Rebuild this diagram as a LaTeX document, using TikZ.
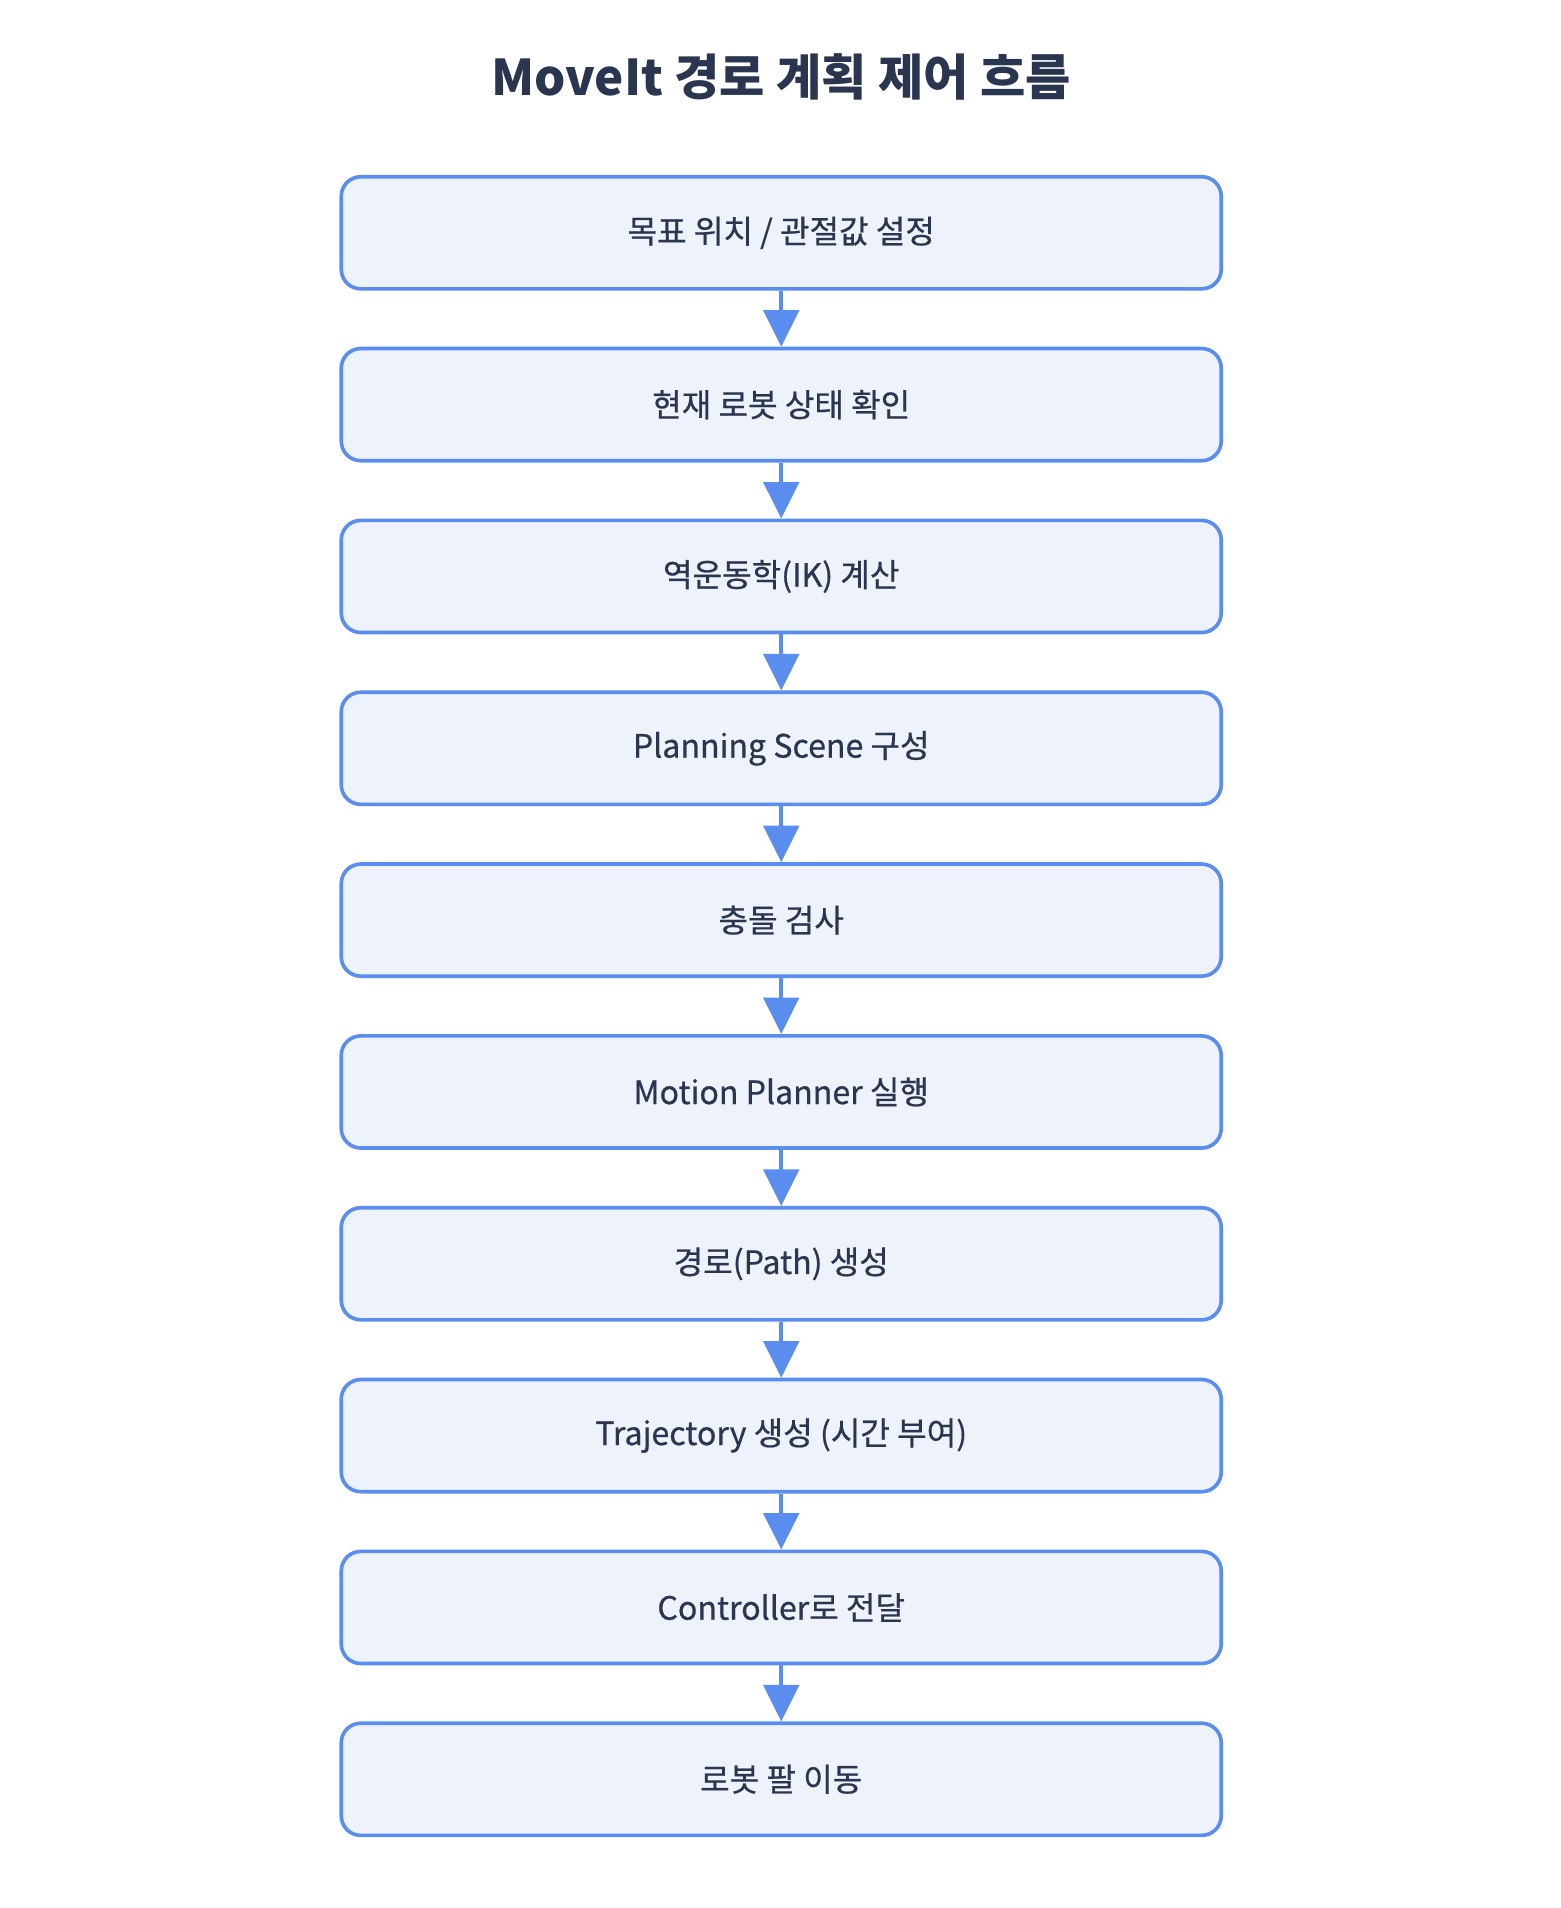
\documentclass[tikz,border=0pt]{standalone}
\usepackage{fontspec}
\setmainfont{Noto Sans CJK KR}
\newfontfamily\medfont{Noto Sans CJK KR}[UprightFeatures={FakeBold=0.6}]
\usetikzlibrary{positioning,arrows.meta}
\definecolor{boxfill}{HTML}{EDF2FB}
\definecolor{boxline}{HTML}{5B8DEF}
\definecolor{ink}{HTML}{2A3550}

\begin{document}
\begin{tikzpicture}[stepbox/.style={draw=boxline, line width=1.7pt, fill=boxfill,
                        rounded corners=0.32cm, minimum width=14.44cm, minimum height=1.84cm,
                        text=ink, font=\fontsize{15}{18}\medfont},
                    flow/.style={draw=boxline, line width=2pt,
                        -{Triangle[length=0.6cm, width=0.58cm]}},
                    node distance=0.92cm]
    \useasboundingbox (0,0) rectangle (25.6,-31.31);
    % title
    \node[text=ink, font=\fontsize{23}{28}\selectfont\bfseries] (title) at (12.82,-1.26) {MoveIt 경로 계획 제어 흐름};
    % steps
    \node[stepbox] (goal) at (12.82,-3.82) {목표 위치 / 관절값 설정};
    \node[stepbox, below=of goal] (state) {현재 로봇 상태 확인};
    \node[stepbox, below=of state] (ik) {역운동학(IK) 계산};
    \node[stepbox, below=of ik] (scene) {Planning Scene 구성};
    \node[stepbox, below=of scene] (collide) {충돌 검사};
    \node[stepbox, below=of collide] (planner) {Motion Planner 실행};
    \node[stepbox, below=of planner] (path) {경로(Path) 생성};
    \node[stepbox, below=of path] (traj) {Trajectory 생성 (시간 부여)};
    \node[stepbox, below=of traj] (ctrl) {Controller로 전달};
    \node[stepbox, below=of ctrl] (move) {로봇 팔 이동};
    % connectors
    \foreach \a/\b in {goal/state, state/ik, ik/scene, scene/collide, collide/planner,
                       planner/path, path/traj, traj/ctrl, ctrl/move}
        \draw[flow] (\a) -- (\b);
\end{tikzpicture}
\end{document}
